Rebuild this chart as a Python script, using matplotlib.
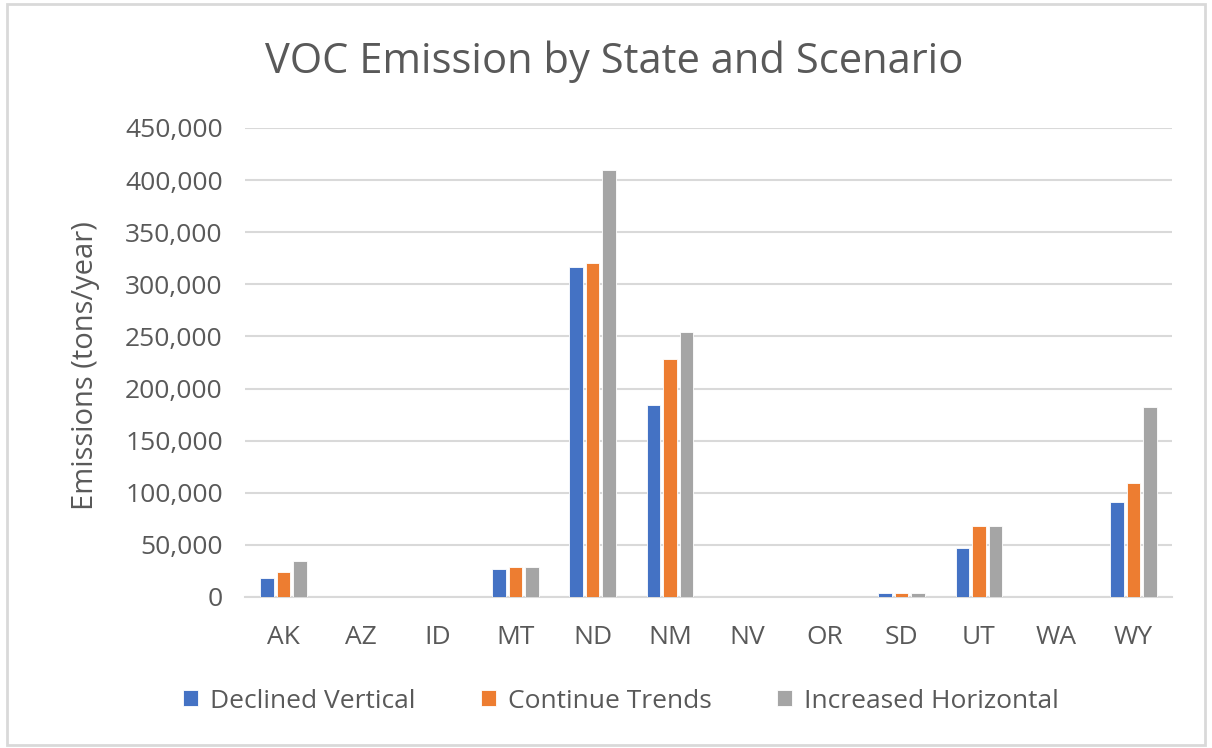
import matplotlib
matplotlib.use("Agg")
import matplotlib.pyplot as plt
import numpy as np
from matplotlib.ticker import FuncFormatter
from matplotlib.patches import Rectangle

states = ["AK", "AZ", "ID", "MT", "ND", "NM", "NV", "OR", "SD", "UT", "WA", "WY"]
declined_vertical = [18000, 0, 0, 27000, 317000, 184000, 0, 0, 4000, 47000, 0, 91000]
continue_trends = [24000, 0, 0, 28500, 320000, 228000, 0, 0, 4000, 68000, 0, 109000]
increased_horizontal = [34500, 0, 0, 28500, 410000, 254000, 0, 0, 4000, 68000, 0, 182500]
series_names = ["Declined Vertical", "Continue Trends", "Increased Horizontal"]
colors = ["#4472C4", "#ED7D31", "#A5A5A5"]

plt.rcParams['font.family'] = ['Open Sans', 'DejaVu Sans']
W, H = 1212, 748
fig = plt.figure(figsize=(W/100, H/100), dpi=100)
fig.patch.set_facecolor("white")

# chart border
fig.add_artist(Rectangle((7/W, 1 - 745/H), (1205-7)/W, (745-4)/H, transform=fig.transFigure,
                         fill=False, edgecolor="#d9d9d9", linewidth=2))

ax = fig.add_axes([245/W, 1 - 597/H, (1172-245)/W, (597-128)/H])
x = np.arange(len(states))
bw = 0.175
off = 0.215
for i, (vals, name, c) in enumerate(zip([declined_vertical, continue_trends, increased_horizontal], series_names, colors)):
    ax.bar(x + (i - 1) * off, vals, width=bw, color=c, label=name, zorder=3,
           edgecolor="white", linewidth=0.6)

ax.set_xlim(-0.5, len(states) - 0.5)
ax.set_ylim(0, 450000)
ax.set_yticks(np.arange(0, 450001, 50000))
ax.yaxis.set_major_formatter(FuncFormatter(lambda v, p: f"{int(v):,}"))
ax.set_xticks(x)
ax.set_xticklabels(states)
ax.grid(axis="y", color="#d9d9d9", linewidth=1.5, zorder=0)
for s in ["top", "right", "left"]:
    ax.spines[s].set_visible(False)
ax.spines["bottom"].set_color("#d9d9d9")
ax.spines["bottom"].set_linewidth(1.5)
ax.tick_params(axis="both", length=0, labelsize=19, labelcolor="#595959")
ax.tick_params(axis="x", pad=20)
ax.tick_params(axis="y", pad=16)

fig.text(86/W, 1 - 366/H, "Emissions (tons/year)", rotation=90, ha="center", va="center",
         fontsize=21, color="#595959")
fig.text(614/W, 1 - 62/H, "VOC Emission by State and Scenario", ha="center", va="center",
         fontsize=30, color="#595959")

leg = fig.legend(loc="center", bbox_to_anchor=(621/W, 1 - 701/H), ncol=3, frameon=False,
                 fontsize=19, handlelength=0.55, handleheight=0.55, columnspacing=2.5,
                 handletextpad=0.45)
for t in leg.get_texts():
    t.set_color("#595959")

fig.savefig("out.png", dpi=100, facecolor="white")
